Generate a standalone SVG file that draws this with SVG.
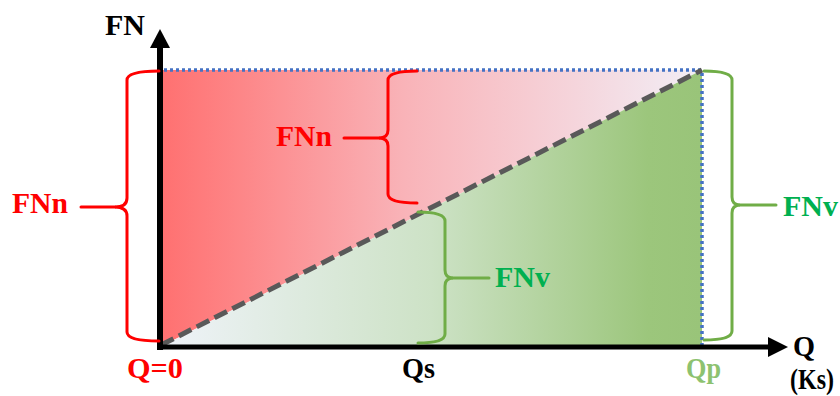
<svg xmlns="http://www.w3.org/2000/svg" width="840" height="396" viewBox="0 0 840 396">
<defs>
<linearGradient id="gRed" gradientUnits="userSpaceOnUse" x1="160" y1="0" x2="702" y2="0">
<stop offset="0" stop-color="#ff7070"/>
<stop offset="0.45" stop-color="#f9b3b8"/>
<stop offset="1" stop-color="#f2eef6"/>
</linearGradient>
<linearGradient id="gGreen" gradientUnits="userSpaceOnUse" x1="160" y1="0" x2="702" y2="0">
<stop offset="0" stop-color="#eff3f9"/>
<stop offset="0.5" stop-color="#cde2c6"/>
<stop offset="0.9" stop-color="#9cc67c"/>
<stop offset="1" stop-color="#99c479"/>
</linearGradient>
</defs>
<style>
text{font-family:'Liberation Serif','Times New Roman','DejaVu Serif Condensed','DejaVu Serif',serif;font-weight:bold;font-size:30px}
.red{fill:#ff0000}
.grn{fill:#00b050}
.blk{fill:#000}
.braceR{fill:none;stroke:#ff0000;stroke-width:3;stroke-linecap:round}
.braceG{fill:none;stroke:#70ad47;stroke-width:3;stroke-linecap:round}
.dot{fill:none;stroke:#4472c4;stroke-width:3.5;stroke-dasharray:3 3}
</style>
<g id="areas">
<polygon points="160,70 702,70 160,347" fill="url(#gRed)"/>
<polygon points="160,347 702,70 702,347" fill="url(#gGreen)"/>
</g>
<g id="connectors">
<line class="dot" x1="164" y1="70" x2="702" y2="70"/>
<line class="dot" x1="702" y1="73" x2="702" y2="345"/>
<line x1="161" y1="345" x2="702" y2="70" stroke="#595959" stroke-width="5" stroke-dasharray="14 6"/>
<line x1="160" y1="350" x2="160" y2="46" stroke="#000" stroke-width="6"/>
<polygon points="160,29 170,48 150,48" fill="#000"/>
<line x1="157" y1="347" x2="770" y2="347" stroke="#000" stroke-width="5"/>
<polygon points="788,347 768,337 768,357" fill="#000"/>
</g>
<g id="brace-left">
<path class="braceR" d="M159,71 Q127,71 127,80 L127,198 Q127,207 115,207 Q127,207 127,216 L127,332 Q127,341 159,341"/>
<line class="braceR" x1="81" y1="207" x2="115" y2="207"/>
<text class="red" x="12" y="213" textLength="56" lengthAdjust="spacingAndGlyphs">FNn</text>
</g>
<g id="brace-mid-red">
<path class="braceR" d="M417,71 Q388,71 388,80 L388,130 Q388,138 379,138 Q388,138 388,146 L388,194 Q388,203 417,203"/>
<line class="braceR" x1="344" y1="138" x2="379" y2="138"/>
<text class="red" x="276" y="146" textLength="56" lengthAdjust="spacingAndGlyphs">FNn</text>
</g>
<g id="brace-mid-green">
<path class="braceG" d="M418,212 Q445,212 445,221 L445,270 Q445,278 453,278 Q445,278 445,286 L445,334 Q445,343 418,343"/>
<line class="braceG" x1="453" y1="278" x2="489" y2="278"/>
<text class="grn" x="495" y="287" textLength="55" lengthAdjust="spacingAndGlyphs">FNv</text>
</g>
<g id="brace-right">
<path class="braceG" d="M704,71 Q732,71 732,80 L732,197 Q732,205 740,205 Q732,205 732,213 L732,331 Q732,340 704,340"/>
<line class="braceG" x1="740" y1="205" x2="776" y2="205"/>
<text class="grn" x="783" y="216" textLength="55" lengthAdjust="spacingAndGlyphs">FNv</text>
</g>
<g id="labels">
<text class="blk" x="105" y="35" textLength="40" lengthAdjust="spacingAndGlyphs">FN</text>
<text class="red" x="127" y="378" textLength="56" lengthAdjust="spacingAndGlyphs">Q=0</text>
<text class="blk" x="402" y="378" textLength="33" lengthAdjust="spacingAndGlyphs">Qs</text>
<text x="686" y="378" fill="#8dc26f" textLength="35" lengthAdjust="spacingAndGlyphs">Qp</text>
<text class="blk" x="793" y="356" textLength="22" lengthAdjust="spacingAndGlyphs">Q</text>
<text class="blk" x="790" y="389" font-size="27" textLength="44" lengthAdjust="spacingAndGlyphs">(Ks)</text>
</g>
</svg>
